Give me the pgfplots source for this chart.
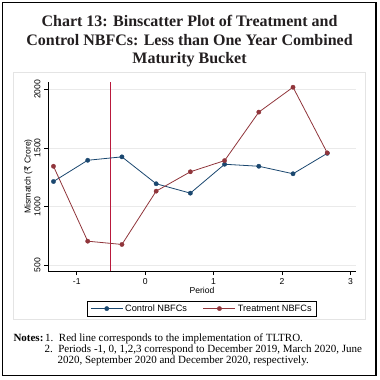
\documentclass[border=0pt]{standalone}
\usepackage{fontspec}
\setmainfont{Liberation Serif}
\setsansfont{Liberation Sans}
\newfontfamily\rupeefont{DejaVu Sans}
\usepackage{pgfplots}
\pgfplotsset{compat=1.18}
\definecolor{cnavy}{RGB}{26,71,111}
\definecolor{cmaroon}{RGB}{144,53,59}
\definecolor{vredline}{RGB}{185,25,60}
\definecolor{titlec}{RGB}{35,31,32}
\definecolor{framegray}{RGB}{228,228,228}
\definecolor{gridgray}{RGB}{234,234,234}
\newcommand\titlefont{\bfseries\fontsize{16}{18.3}\selectfont}
\newcommand\notefont{\fontsize{11}{11}\selectfont}
\newcommand\axfont{\sffamily\fontsize{8.6}{10}\selectfont}
\newcommand\legfont{\sffamily\fontsize{9.2}{10}\selectfont}
\pgfplotstableread{
x y
-0.5 452
-0.5 2064
}\tltro
\begin{document}
\begin{tikzpicture}[x=1pt,y=1pt]
\useasboundingbox (0,0) rectangle (380,-380);
\draw[line width=1.2pt] (2.7,-2.7) rectangle (376,-375.5);
\draw[framegray, line width=0.6pt] (13.3,-72) rectangle (365.7,-319.3);
\node[anchor=base, inner sep=0, font=\titlefont, text=titlec] at (189.5,-26.7) {Chart 13: Binscatter Plot of Treatment and};
\node[anchor=base, inner sep=0, font=\titlefont, text=titlec] at (189.5,-45) {Control NBFCs: Less than One Year Combined};
\node[anchor=base, inner sep=0, font=\titlefont, text=titlec] at (189.5,-63.3) {Maturity Bucket};
\node[anchor=base west, inner sep=0, font=\notefont\bfseries] at (13.3,-341) {Notes:};
\node[anchor=base west, inner sep=0, font=\notefont] at (45,-341) {1.\ \ Red line corresponds to the implementation of TLTRO.};
\node[anchor=base west, inner sep=0, font=\notefont] at (44.3,-352) {2.\ \ Periods -1, 0, 1,2,3 correspond to December 2019, March 2020, June};
\node[anchor=base west, inner sep=0, font=\notefont] at (57.3,-363) {2020, September 2020 and December 2020, respectively.};
\begin{axis}[
  at={(48pt,-271pt)}, anchor=south west,
  scale only axis, width=308pt, height=189.3pt,
  xmin=-1.42, xmax=3.08, ymin=452, ymax=2064,
  axis x line*=bottom, axis y line*=left,
  axis line style={line width=0.8pt},
  tick align=outside, major tick length=4pt,
  tick style={line width=0.6pt, black},
  xtick={-1,0,1,2,3}, ytick={500,1000,1500,2000},
  ymajorgrids, grid style={gridgray, line width=0.6pt},
  tick label style={font=\axfont},
  /pgf/number format/assume math mode=true,
  /pgf/number format/1000 sep={},
  yticklabel style={rotate=90, anchor=south},
  xlabel={Period}, ylabel={Mismatch ({\rupeefont ₹} Crore)},
  label style={font=\axfont},
  every axis x label/.append style={at={(axis description cs:0.5,-0.1004)}, anchor=center},
  every axis y label/.append style={at={(axis description cs:-0.064,0.5)}, anchor=center},
  legend columns=2,
  legend style={at={(0.5,-0.157)}, anchor=north, draw=black, line width=0.6pt, font=\legfont,
    inner xsep=3pt, inner ysep=1.5pt,
    /tikz/every even column/.append style={column sep=14pt}},
  legend image code/.code={\draw[mark repeat=2,mark phase=2,#1] plot coordinates {(0pt,0pt) (16pt,0pt) (32pt,0pt)};},
]
\addplot[draw=vredline, line width=1pt, mark=none, forget plot] table[x=x,y=y] {\tltro};
\addplot[color=cnavy, line width=0.8pt, mark=*, mark size=2.2pt, mark options={solid, line width=0.3pt}] coordinates {
(-1.34,1214) (-0.84,1395) (-0.34,1424) (0.16,1195) (0.66,1115) (1.16,1361) (1.66,1344) (2.16,1280) (2.66,1454)};
\addlegendentry{Control NBFCs}
\addplot[color=cmaroon, line width=0.8pt, mark=*, mark size=2.2pt, mark options={solid, line width=0.3pt}] coordinates {
(-1.34,1344) (-0.84,706) (-0.34,678) (0.16,1132) (0.66,1297) (1.16,1392) (1.66,1805) (2.16,2017) (2.66,1458)};
\addlegendentry{Treatment NBFCs}
\end{axis}
\end{tikzpicture}
\end{document}
